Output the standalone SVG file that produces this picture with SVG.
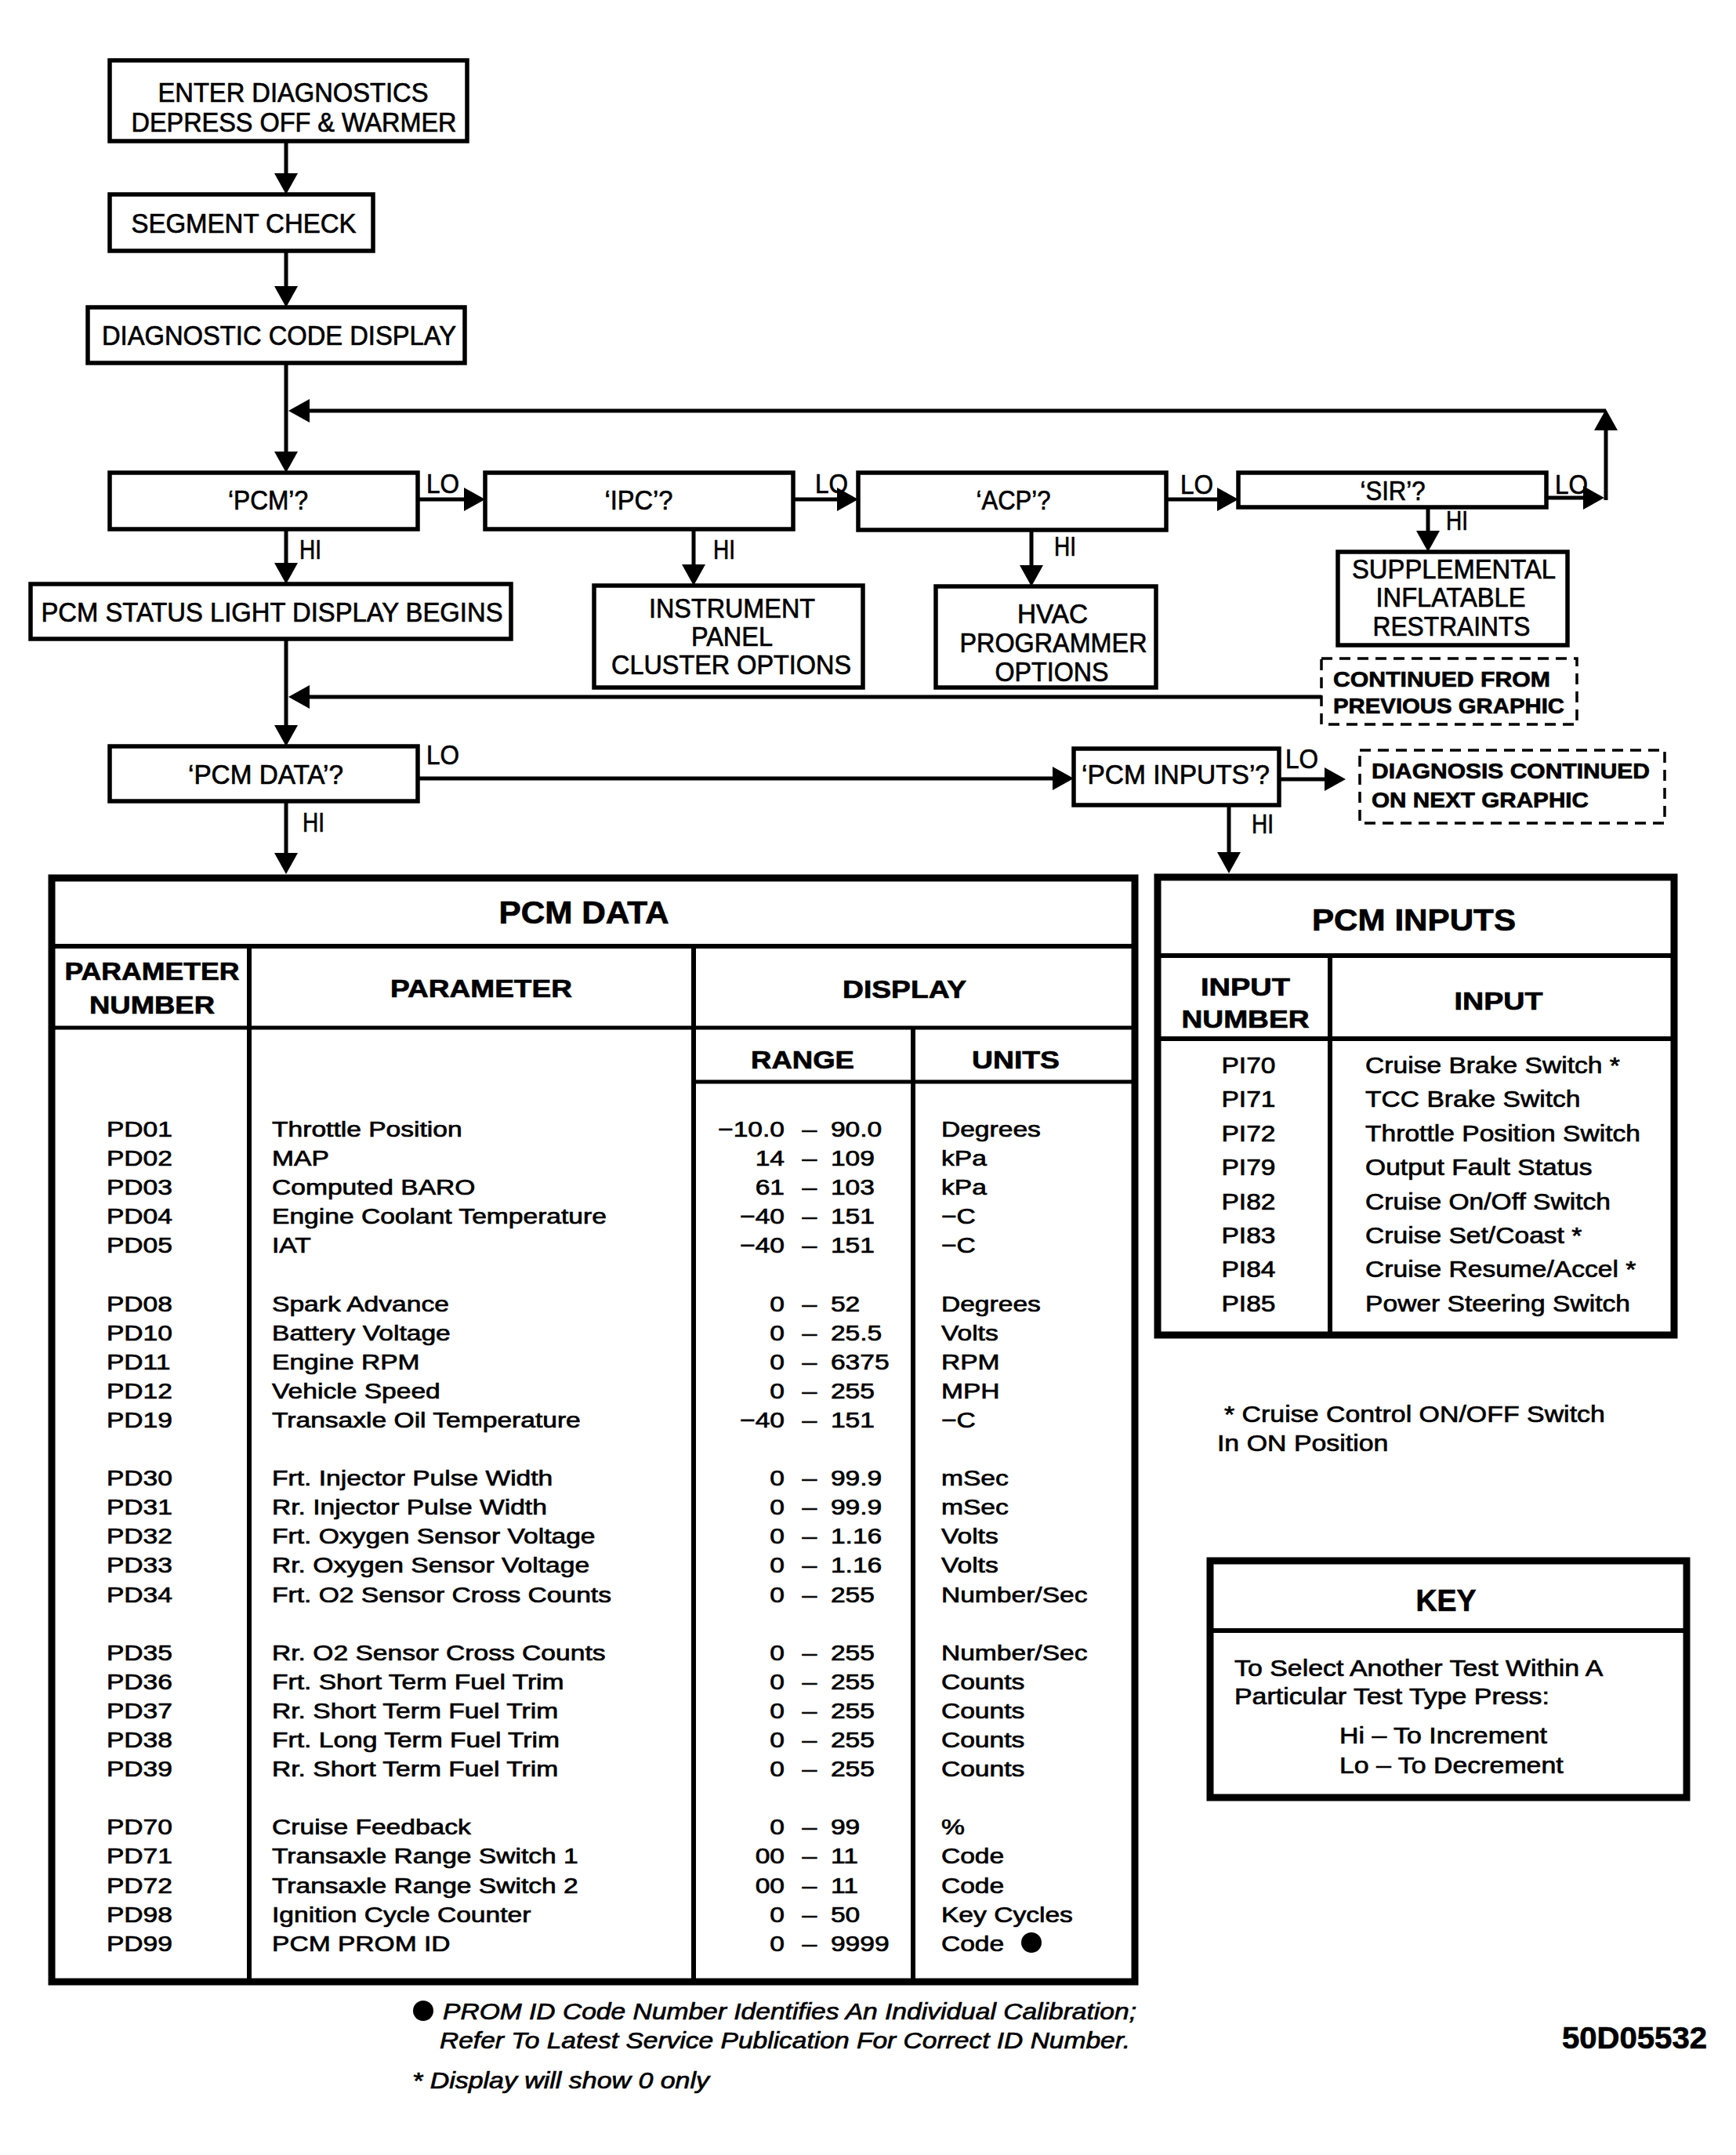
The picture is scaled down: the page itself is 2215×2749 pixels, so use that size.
<svg xmlns="http://www.w3.org/2000/svg" width="2215" height="2749" viewBox="0 0 2215 2749">
<defs>
<marker id="ah" markerUnits="userSpaceOnUse" viewBox="0 0 27 30" markerWidth="27" markerHeight="30" refX="17" refY="15" orient="auto">
<path d="M0,0 L27,15 L0,30 z" fill="#000"/>
</marker>
</defs>
<style>
text{font-family:"Liberation Sans",Arial,sans-serif;fill:#000;stroke:#000;stroke-width:0.7}
.box{fill:none;stroke:#000;stroke-width:5.5}
.dash{fill:none;stroke:#000;stroke-width:3.5;stroke-dasharray:14 9}
.fc{font-size:35px;text-anchor:middle}
.lbl{font-size:35px}
.dt{font-size:27px;font-weight:bold}
.con{fill:none;stroke:#000;stroke-width:5;marker-end:url(#ah)}
.tb{fill:none;stroke:#000;stroke-width:9}
.tl{stroke:#000;stroke-width:6}
.hd{font-size:32px;font-weight:bold;text-anchor:middle}
.ttl{font-size:40px;font-weight:bold;text-anchor:middle}
.r1{font-size:28px}
.r2{font-size:30px}
.e{text-anchor:end}
.m{text-anchor:middle}
.it{font-size:30px;font-style:italic}
</style>
<rect x="0" y="0" width="2215" height="2749" fill="#fff"/>

<g id="connectors">
<path class="con" d="M365,180 V238"/>
<path class="con" d="M365,320 V382"/>
<path class="con" d="M365,463 V593"/>
<path class="con" d="M2049,524 H378"/>
<path class="con" d="M1973,635 H2037"/>
<path class="con" d="M2049,638 V532"/>
<path class="con" d="M533,637 H609"/>
<path class="con" d="M1012,637 H1085"/>
<path class="con" d="M1488,637 H1570"/>
<path class="con" d="M365,675 V735"/>
<path class="con" d="M885,675 V737"/>
<path class="con" d="M1316,676 V738"/>
<path class="con" d="M1822,647 V694"/>
<path class="con" d="M365,815 V942"/>
<path class="con" d="M1686,889 H378"/>
<path class="con" d="M533,993 H1360"/>
<path class="con" d="M1632,994 H1707"/>
<path class="con" d="M365,1022 V1105"/>
<path class="con" d="M1568,1027 V1104"/>
<g id="connector-labels">
<text class="lbl" x="544" y="629" textLength="42" lengthAdjust="spacingAndGlyphs">LO</text>
<text class="lbl" x="1040" y="629" textLength="42" lengthAdjust="spacingAndGlyphs">LO</text>
<text class="lbl" x="1506" y="630" textLength="42" lengthAdjust="spacingAndGlyphs">LO</text>
<text class="lbl" x="1984" y="630" textLength="42" lengthAdjust="spacingAndGlyphs">LO</text>
<text class="lbl" x="544" y="975" textLength="42" lengthAdjust="spacingAndGlyphs">LO</text>
<text class="lbl" x="1640" y="980" textLength="42" lengthAdjust="spacingAndGlyphs">LO</text>
<text class="lbl" x="382" y="713" textLength="28" lengthAdjust="spacingAndGlyphs">HI</text>
<text class="lbl" x="910" y="713" textLength="28" lengthAdjust="spacingAndGlyphs">HI</text>
<text class="lbl" x="1345" y="709" textLength="28" lengthAdjust="spacingAndGlyphs">HI</text>
<text class="lbl" x="1845" y="676" textLength="28" lengthAdjust="spacingAndGlyphs">HI</text>
<text class="lbl" x="386" y="1061" textLength="28" lengthAdjust="spacingAndGlyphs">HI</text>
<text class="lbl" x="1597" y="1063" textLength="28" lengthAdjust="spacingAndGlyphs">HI</text>
</g>
</g>

<g id="n-enter">
<rect class="box" x="140" y="77" width="456" height="103"/>
<text class="fc" x="374" y="130" textLength="345" lengthAdjust="spacingAndGlyphs">ENTER DIAGNOSTICS</text>
<text class="fc" x="375" y="168" textLength="415" lengthAdjust="spacingAndGlyphs">DEPRESS OFF &amp; WARMER</text>
</g>
<g id="n-segment">
<rect class="box" x="140" y="248" width="336" height="72"/>
<text class="fc" x="311" y="297" textLength="287" lengthAdjust="spacingAndGlyphs">SEGMENT CHECK</text>
</g>
<g id="n-diagcode">
<rect class="box" x="112" y="392" width="481" height="71"/>
<text class="fc" x="356" y="440" textLength="452" lengthAdjust="spacingAndGlyphs">DIAGNOSTIC CODE DISPLAY</text>
</g>
<g id="n-pcm">
<rect class="box" x="140" y="603" width="393" height="72"/>
<text class="fc" x="342" y="650" textLength="102" lengthAdjust="spacingAndGlyphs">‘PCM’?</text>
</g>
<g id="n-ipc">
<rect class="box" x="619" y="603" width="393" height="72"/>
<text class="fc" x="815" y="650" textLength="87" lengthAdjust="spacingAndGlyphs">‘IPC’?</text>
</g>
<g id="n-acp">
<rect class="box" x="1095" y="603" width="393" height="73"/>
<text class="fc" x="1293" y="650" textLength="95" lengthAdjust="spacingAndGlyphs">‘ACP’?</text>
</g>
<g id="n-sir">
<rect class="box" x="1580" y="603" width="393" height="44"/>
<text class="fc" x="1777" y="638" textLength="83" lengthAdjust="spacingAndGlyphs">‘SIR’?</text>
</g>
<g id="n-status">
<rect class="box" x="39" y="745" width="613" height="70"/>
<text class="fc" x="347" y="793" textLength="589" lengthAdjust="spacingAndGlyphs">PCM STATUS LIGHT DISPLAY BEGINS</text>
</g>
<g id="n-ipc-options">
<rect class="box" x="758" y="747" width="343" height="130"/>
<text class="fc" x="934" y="788" textLength="212" lengthAdjust="spacingAndGlyphs">INSTRUMENT</text>
<text class="fc" x="934" y="824" textLength="104" lengthAdjust="spacingAndGlyphs">PANEL</text>
<text class="fc" x="933" y="860" textLength="306" lengthAdjust="spacingAndGlyphs">CLUSTER OPTIONS</text>
</g>
<g id="n-hvac">
<rect class="box" x="1194" y="748" width="281" height="129"/>
<text class="fc" x="1343" y="795" textLength="90" lengthAdjust="spacingAndGlyphs">HVAC</text>
<text class="fc" x="1344" y="832" textLength="239" lengthAdjust="spacingAndGlyphs">PROGRAMMER</text>
<text class="fc" x="1342" y="869" textLength="145" lengthAdjust="spacingAndGlyphs">OPTIONS</text>
</g>
<g id="n-sir-options">
<rect class="box" x="1707" y="704" width="293" height="119"/>
<text class="fc" x="1855" y="738" textLength="260" lengthAdjust="spacingAndGlyphs">SUPPLEMENTAL</text>
<text class="fc" x="1851" y="774" textLength="191" lengthAdjust="spacingAndGlyphs">INFLATABLE</text>
<text class="fc" x="1852" y="811" textLength="201" lengthAdjust="spacingAndGlyphs">RESTRAINTS</text>
</g>
<g id="n-continued-from">
<rect class="dash" x="1686" y="840" width="326" height="84"/>
<text class="dt" x="1701" y="876" textLength="277" lengthAdjust="spacingAndGlyphs">CONTINUED FROM</text>
<text class="dt" x="1701" y="910" textLength="295" lengthAdjust="spacingAndGlyphs">PREVIOUS GRAPHIC</text>
</g>
<g id="n-pcmdata-q">
<rect class="box" x="140" y="952" width="393" height="70"/>
<text class="fc" x="339" y="1000" textLength="198" lengthAdjust="spacingAndGlyphs">‘PCM DATA’?</text>
</g>
<g id="n-pcminputs-q">
<rect class="box" x="1370" y="955" width="262" height="72"/>
<text class="fc" x="1500" y="1000" textLength="240" lengthAdjust="spacingAndGlyphs">‘PCM INPUTS’?</text>
</g>
<g id="n-continued-next">
<rect class="dash" x="1735" y="957" width="389" height="93"/>
<text class="dt" x="1750" y="993" textLength="355" lengthAdjust="spacingAndGlyphs">DIAGNOSIS CONTINUED</text>
<text class="dt" x="1750" y="1030" textLength="277" lengthAdjust="spacingAndGlyphs">ON NEXT GRAPHIC</text>
</g>

<g id="t-pcmdata">
<rect class="tb" x="66" y="1120" width="1382" height="1408"/>
<line class="tl" x1="66" y1="1207" x2="1448" y2="1207"/>
<line class="tl" x1="66" y1="1311" x2="1448" y2="1311" style="stroke-width:5"/>
<line class="tl" x1="885" y1="1380" x2="1448" y2="1380" style="stroke-width:5"/>
<line class="tl" x1="318" y1="1207" x2="318" y2="2528"/>
<line class="tl" x1="885" y1="1207" x2="885" y2="2528"/>
<line class="tl" x1="1165" y1="1311" x2="1165" y2="2528"/>
<text class="ttl" x="745" y="1178" textLength="217" lengthAdjust="spacingAndGlyphs">PCM DATA</text>
<text class="hd" x="194" y="1250" textLength="223" lengthAdjust="spacingAndGlyphs">PARAMETER</text>
<text class="hd" x="194" y="1293" textLength="160" lengthAdjust="spacingAndGlyphs">NUMBER</text>
<text class="hd" x="614" y="1272" textLength="232" lengthAdjust="spacingAndGlyphs">PARAMETER</text>
<text class="hd" x="1154" y="1273" textLength="158" lengthAdjust="spacingAndGlyphs">DISPLAY</text>
<text class="hd" x="1024" y="1363" textLength="132" lengthAdjust="spacingAndGlyphs">RANGE</text>
<text class="hd" x="1296" y="1363" textLength="112" lengthAdjust="spacingAndGlyphs">UNITS</text>
<circle cx="1316" cy="2478" r="13" fill="#000"/>
<g transform="scale(1.2,1)" class="r1">
<text x="113.3" y="1450">PD01</text><text x="289.2" y="1450">Throttle Position</text><text class="e" x="834.2" y="1450">−10.0</text><text class="m" x="860.8" y="1450">–</text><text x="883.3" y="1450">90.0</text><text x="1000.8" y="1450">Degrees</text>
<text x="113.3" y="1487">PD02</text><text x="289.2" y="1487">MAP</text><text class="e" x="834.2" y="1487">14</text><text class="m" x="860.8" y="1487">–</text><text x="883.3" y="1487">109</text><text x="1000.8" y="1487">kPa</text>
<text x="113.3" y="1524">PD03</text><text x="289.2" y="1524">Computed BARO</text><text class="e" x="834.2" y="1524">61</text><text class="m" x="860.8" y="1524">–</text><text x="883.3" y="1524">103</text><text x="1000.8" y="1524">kPa</text>
<text x="113.3" y="1561">PD04</text><text x="289.2" y="1561">Engine Coolant Temperature</text><text class="e" x="834.2" y="1561">−40</text><text class="m" x="860.8" y="1561">–</text><text x="883.3" y="1561">151</text><text x="1000.8" y="1561">−C</text>
<text x="113.3" y="1598">PD05</text><text x="289.2" y="1598">IAT</text><text class="e" x="834.2" y="1598">−40</text><text class="m" x="860.8" y="1598">–</text><text x="883.3" y="1598">151</text><text x="1000.8" y="1598">−C</text>
<text x="113.3" y="1673">PD08</text><text x="289.2" y="1673">Spark Advance</text><text class="e" x="834.2" y="1673">0</text><text class="m" x="860.8" y="1673">–</text><text x="883.3" y="1673">52</text><text x="1000.8" y="1673">Degrees</text>
<text x="113.3" y="1710">PD10</text><text x="289.2" y="1710">Battery Voltage</text><text class="e" x="834.2" y="1710">0</text><text class="m" x="860.8" y="1710">–</text><text x="883.3" y="1710">25.5</text><text x="1000.8" y="1710">Volts</text>
<text x="113.3" y="1747">PD11</text><text x="289.2" y="1747">Engine RPM</text><text class="e" x="834.2" y="1747">0</text><text class="m" x="860.8" y="1747">–</text><text x="883.3" y="1747">6375</text><text x="1000.8" y="1747">RPM</text>
<text x="113.3" y="1784">PD12</text><text x="289.2" y="1784">Vehicle Speed</text><text class="e" x="834.2" y="1784">0</text><text class="m" x="860.8" y="1784">–</text><text x="883.3" y="1784">255</text><text x="1000.8" y="1784">MPH</text>
<text x="113.3" y="1821">PD19</text><text x="289.2" y="1821">Transaxle Oil Temperature</text><text class="e" x="834.2" y="1821">−40</text><text class="m" x="860.8" y="1821">–</text><text x="883.3" y="1821">151</text><text x="1000.8" y="1821">−C</text>
<text x="113.3" y="1895">PD30</text><text x="289.2" y="1895">Frt. Injector Pulse Width</text><text class="e" x="834.2" y="1895">0</text><text class="m" x="860.8" y="1895">–</text><text x="883.3" y="1895">99.9</text><text x="1000.8" y="1895">mSec</text>
<text x="113.3" y="1932">PD31</text><text x="289.2" y="1932">Rr. Injector Pulse Width</text><text class="e" x="834.2" y="1932">0</text><text class="m" x="860.8" y="1932">–</text><text x="883.3" y="1932">99.9</text><text x="1000.8" y="1932">mSec</text>
<text x="113.3" y="1969">PD32</text><text x="289.2" y="1969">Frt. Oxygen Sensor Voltage</text><text class="e" x="834.2" y="1969">0</text><text class="m" x="860.8" y="1969">–</text><text x="883.3" y="1969">1.16</text><text x="1000.8" y="1969">Volts</text>
<text x="113.3" y="2006">PD33</text><text x="289.2" y="2006">Rr. Oxygen Sensor Voltage</text><text class="e" x="834.2" y="2006">0</text><text class="m" x="860.8" y="2006">–</text><text x="883.3" y="2006">1.16</text><text x="1000.8" y="2006">Volts</text>
<text x="113.3" y="2044">PD34</text><text x="289.2" y="2044">Frt. O2 Sensor Cross Counts</text><text class="e" x="834.2" y="2044">0</text><text class="m" x="860.8" y="2044">–</text><text x="883.3" y="2044">255</text><text x="1000.8" y="2044">Number/Sec</text>
<text x="113.3" y="2118">PD35</text><text x="289.2" y="2118">Rr. O2 Sensor Cross Counts</text><text class="e" x="834.2" y="2118">0</text><text class="m" x="860.8" y="2118">–</text><text x="883.3" y="2118">255</text><text x="1000.8" y="2118">Number/Sec</text>
<text x="113.3" y="2155">PD36</text><text x="289.2" y="2155">Frt. Short Term Fuel Trim</text><text class="e" x="834.2" y="2155">0</text><text class="m" x="860.8" y="2155">–</text><text x="883.3" y="2155">255</text><text x="1000.8" y="2155">Counts</text>
<text x="113.3" y="2192">PD37</text><text x="289.2" y="2192">Rr. Short Term Fuel Trim</text><text class="e" x="834.2" y="2192">0</text><text class="m" x="860.8" y="2192">–</text><text x="883.3" y="2192">255</text><text x="1000.8" y="2192">Counts</text>
<text x="113.3" y="2229">PD38</text><text x="289.2" y="2229">Frt. Long Term Fuel Trim</text><text class="e" x="834.2" y="2229">0</text><text class="m" x="860.8" y="2229">–</text><text x="883.3" y="2229">255</text><text x="1000.8" y="2229">Counts</text>
<text x="113.3" y="2266">PD39</text><text x="289.2" y="2266">Rr. Short Term Fuel Trim</text><text class="e" x="834.2" y="2266">0</text><text class="m" x="860.8" y="2266">–</text><text x="883.3" y="2266">255</text><text x="1000.8" y="2266">Counts</text>
<text x="113.3" y="2340">PD70</text><text x="289.2" y="2340">Cruise Feedback</text><text class="e" x="834.2" y="2340">0</text><text class="m" x="860.8" y="2340">–</text><text x="883.3" y="2340">99</text><text x="1000.8" y="2340">%</text>
<text x="113.3" y="2377">PD71</text><text x="289.2" y="2377">Transaxle Range Switch 1</text><text class="e" x="834.2" y="2377">00</text><text class="m" x="860.8" y="2377">–</text><text x="883.3" y="2377">11</text><text x="1000.8" y="2377">Code</text>
<text x="113.3" y="2415">PD72</text><text x="289.2" y="2415">Transaxle Range Switch 2</text><text class="e" x="834.2" y="2415">00</text><text class="m" x="860.8" y="2415">–</text><text x="883.3" y="2415">11</text><text x="1000.8" y="2415">Code</text>
<text x="113.3" y="2452">PD98</text><text x="289.2" y="2452">Ignition Cycle Counter</text><text class="e" x="834.2" y="2452">0</text><text class="m" x="860.8" y="2452">–</text><text x="883.3" y="2452">50</text><text x="1000.8" y="2452">Key Cycles</text>
<text x="113.3" y="2489">PD99</text><text x="289.2" y="2489">PCM PROM ID</text><text class="e" x="834.2" y="2489">0</text><text class="m" x="860.8" y="2489">–</text><text x="883.3" y="2489">9999</text><text x="1000.8" y="2489">Code</text>
</g>
</g>

<g id="t-pcminputs">
<rect class="tb" x="1477" y="1119" width="659" height="584"/>
<line class="tl" x1="1477" y1="1219" x2="2136" y2="1219"/>
<line class="tl" x1="1477" y1="1325" x2="2136" y2="1325"/>
<line class="tl" x1="1697" y1="1219" x2="1697" y2="1703"/>
<text class="ttl" x="1804" y="1187" style="font-size:39px" textLength="260" lengthAdjust="spacingAndGlyphs">PCM INPUTS</text>
<text class="hd" x="1589" y="1270" textLength="114" lengthAdjust="spacingAndGlyphs">INPUT</text>
<text class="hd" x="1589" y="1311" textLength="163" lengthAdjust="spacingAndGlyphs">NUMBER</text>
<text class="hd" x="1912" y="1288" textLength="113" lengthAdjust="spacingAndGlyphs">INPUT</text>
<g transform="scale(1.12,1)" class="r2">
<text class="m" x="1422.3" y="1369">PI70</text><text x="1555.4" y="1369">Cruise Brake Switch *</text>
<text class="m" x="1422.3" y="1412">PI71</text><text x="1555.4" y="1412">TCC Brake Switch</text>
<text class="m" x="1422.3" y="1456">PI72</text><text x="1555.4" y="1456">Throttle Position Switch</text>
<text class="m" x="1422.3" y="1499">PI79</text><text x="1555.4" y="1499">Output Fault Status</text>
<text class="m" x="1422.3" y="1543">PI82</text><text x="1555.4" y="1543">Cruise On/Off Switch</text>
<text class="m" x="1422.3" y="1586">PI83</text><text x="1555.4" y="1586">Cruise Set/Coast *</text>
<text class="m" x="1422.3" y="1629">PI84</text><text x="1555.4" y="1629">Cruise Resume/Accel *</text>
<text class="m" x="1422.3" y="1673">PI85</text><text x="1555.4" y="1673">Power Steering Switch</text>
</g>
</g>

<g id="n-inputs-note" transform="scale(1.13,1)" class="r2">
<text x="1382.3" y="1814">* Cruise Control ON/OFF Switch</text>
<text x="1374.3" y="1851">In ON Position</text>
</g>

<g id="n-key">
<rect class="tb" x="1544" y="1991" width="608" height="302"/>
<line class="tl" x1="1544" y1="2080" x2="2152" y2="2080"/>
<text class="ttl" x="1845" y="2055" style="font-size:39px" textLength="77" lengthAdjust="spacingAndGlyphs">KEY</text>
<g transform="scale(1.13,1)" class="r2">
<text x="1393.8" y="2138">To Select Another Test Within A</text>
<text x="1393.8" y="2174">Particular Test Type Press:</text>
<text x="1512.4" y="2224">Hi – To Increment</text>
<text x="1512.4" y="2262">Lo – To Decrement</text>
</g>
</g>

<g id="n-footnotes">
<circle cx="540" cy="2565" r="13" fill="#000"/>
<text class="it" x="565" y="2576" textLength="885" lengthAdjust="spacingAndGlyphs">PROM ID Code Number Identifies An Individual Calibration;</text>
<text class="it" x="561" y="2613" textLength="881" lengthAdjust="spacingAndGlyphs">Refer To Latest Service Publication For Correct ID Number.</text>
<text class="it" x="526" y="2664" textLength="379" lengthAdjust="spacingAndGlyphs">* Display will show 0 only</text>
<text x="1993" y="2613" style="font-size:38px;font-weight:bold" textLength="185" lengthAdjust="spacingAndGlyphs">50D05532</text>
</g>
</svg>
